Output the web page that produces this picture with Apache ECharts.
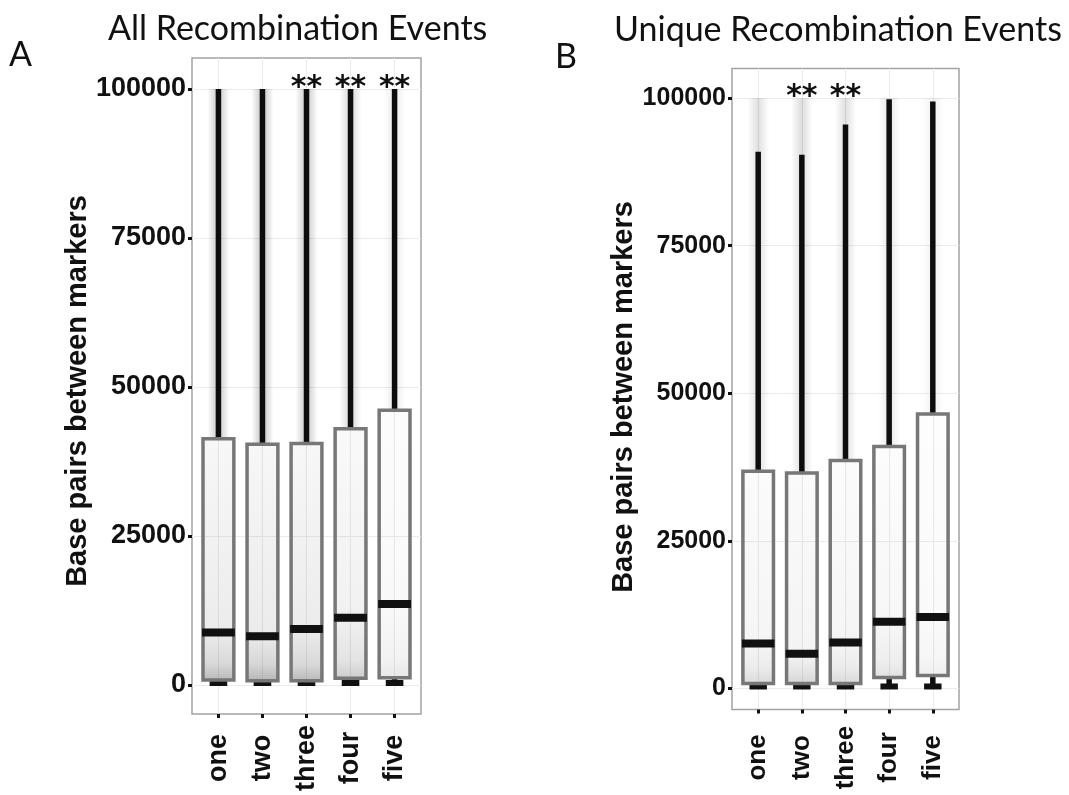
<!DOCTYPE html>
<html>
<head>
<meta charset="utf-8">
<script src="https://cdn.jsdelivr.net/npm/echarts@6/dist/echarts.min.js"></script>
<style>
  html, body { margin: 0; padding: 0; background: #fff; }
  #chart { width: 1069px; height: 795px; }
</style>
</head>
<body>
<div id="chart"></div>
<script>
const categories = ['one', 'two', 'three', 'four', 'five'];
const yTicks = [0, 25000, 50000, 75000, 100000];

// A: all recombination events
const lowA = [0, 0, 0, 0, 0];
const q1A = [850, 700, 700, 1150, 1200];
const medianA = [8800, 8200, 9400, 11300, 13600];
const q3A = [41300, 40400, 40500, 43000, 46100];
const highA = [100000, 100000, 100000, 100000, 100000];
const starsA = ['three', 'four', 'five'];

// B: unique recombination events
const lowB = [0, 0, 0, 0, 0];
const q1B = [850, 850, 850, 1850, 2200];
const medianB = [7600, 5900, 7800, 11300, 12100];
const q3B = [36800, 36500, 38600, 41000, 46500];
const highB = [90900, 90400, 95500, 99800, 99400];
const starsB = ['two', 'three'];

// jittered points run up to this value
const pointMax = 100000;
const starValue = 101500;

// how dark the jittered points make each box look
const shadeA = [0.30, 0.32, 0.30, 0.22, 0.10];
const shadeB = [0.16, 0.18, 0.16, 0.13, 0.07];

const boldFont = 'Liberation Sans';
const titleFont = 'Lato';

function rows(low, q1, med, q3, high) {
    return categories.map((c, i) => [i + 1, low[i], q1[i], med[i], q3[i], high[i]]);
}

function boxRenderer(shade) {
    return function (params, api) {
        const x = api.value(0);
        const pLow = api.coord([x, api.value(1)]);
        const pQ1 = api.coord([x, api.value(2)]);
        const pMed = api.coord([x, api.value(3)]);
        const pQ3 = api.coord([x, api.value(4)]);
        const pHigh = api.coord([x, api.value(5)]);
        const pCap = api.coord([x, pointMax]);
        const unit = api.size([1, 0])[0];
        const cx = pQ1[0];
        const bw = unit * 0.7;
        const s = shade[params.dataIndex];
        const medFrac = Math.min(0.9, Math.max(0.01, (pMed[1] - pQ3[1]) / (pQ1[1] - pQ3[1])));
        const a = v => 'rgba(0,0,0,' + v.toFixed(3) + ')';
        return {
            type: 'group',
            children: [
                // point cloud above the box
                {
                    type: 'rect',
                    shape: { x: cx - unit * 0.25, y: pCap[1], width: unit * 0.5, height: pQ3[1] - pCap[1] },
                    style: {
                        fill: new echarts.graphic.LinearGradient(0, 0, 1, 0, [
                            { offset: 0, color: a(0) },
                            { offset: 0.5, color: a(s * 0.75) },
                            { offset: 1, color: a(0) }
                        ])
                    }
                },
                // point cloud inside the box
                {
                    type: 'rect',
                    shape: { x: cx - bw / 2, y: pQ3[1], width: bw, height: pQ1[1] - pQ3[1] },
                    style: {
                        fill: new echarts.graphic.LinearGradient(0, 0, 0, 1, [
                            { offset: 0, color: a(s * 0.1) },
                            { offset: medFrac, color: a(s * 0.25) },
                            { offset: 0.93, color: a(s * 0.5) },
                            { offset: 1, color: a(s * 0.9) }
                        ])
                    }
                },
                {
                    type: 'line',
                    shape: { x1: cx, y1: pQ3[1], x2: cx, y2: pHigh[1] },
                    style: { stroke: '#0d0d0d', lineWidth: 5.5 }
                },
                {
                    type: 'line',
                    shape: { x1: cx, y1: pLow[1], x2: cx, y2: pQ1[1] },
                    style: { stroke: '#0d0d0d', lineWidth: 5.5 }
                },
                {
                    type: 'rect',
                    shape: { x: cx - unit * 0.2, y: pLow[1] - 5, width: unit * 0.4, height: 6 },
                    style: { fill: '#111' }
                },
                {
                    type: 'rect',
                    shape: { x: cx - bw / 2, y: pQ3[1], width: bw, height: pQ1[1] - pQ3[1] },
                    style: { fill: 'none', stroke: '#777', lineWidth: 3.5 }
                },
                {
                    type: 'rect',
                    shape: { x: cx - bw / 2 - 1, y: pMed[1] - 4, width: bw + 2, height: 8 },
                    style: { fill: '#111' }
                }
            ]
        };
    };
}

function starRenderer(params, api) {
    const p = api.coord([api.value(0), api.value(1)]);
    return {
        type: 'text',
        x: p[0],
        y: p[1] + 8,
        style: {
            text: '**',
            fontFamily: 'DejaVu Sans',
            fontWeight: 'bold',
            fontSize: 30,
            fill: '#111',
            align: 'center',
            verticalAlign: 'middle'
        }
    };
}

function xAxisFor(gridIndex, margin, fontSize) {
    return {
        type: 'value',
        gridIndex: gridIndex,
        min: 0.4,
        max: 5.6,
        axisLine: { show: false, onZero: false },
        axisTick: { show: true, customValues: [1, 2, 3, 4, 5], length: 4, lineStyle: { color: '#111', width: 3 } },
        axisLabel: {
            customValues: [1, 2, 3, 4, 5],
            formatter: v => categories[Math.round(v) - 1],
            rotate: 90,
            align: 'center',
            verticalAlign: 'middle',
            margin: margin,
            fontFamily: boldFont,
            fontWeight: 'bold',
            fontSize: fontSize,
            color: '#111'
        },
        splitLine: { show: true, lineStyle: { color: '#ebebeb', width: 1 } }
    };
}

function yAxisFor(gridIndex, min, max, fontSize, nameGap, namePadding) {
    return {
        type: 'value',
        gridIndex: gridIndex,
        min: min,
        max: max,
        axisLine: { show: false, onZero: false },
        axisTick: { show: true, customValues: yTicks, length: 4, lineStyle: { color: '#111', width: 3 } },
        axisLabel: {
            customValues: yTicks,
            formatter: v => String(v),
            margin: 6,
            fontFamily: boldFont,
            fontWeight: 'bold',
            fontSize: fontSize,
            color: '#111'
        },
        splitLine: { show: true, lineStyle: { color: '#ebebeb', width: 1 } },
        name: 'Base pairs between markers',
        nameLocation: 'middle',
        nameRotate: 90,
        nameGap: nameGap,
        nameTextStyle: { fontFamily: boldFont, fontWeight: 'bold', fontSize: 29, color: '#111', padding: namePadding }
    };
}

const titleStyle = { fontFamily: titleFont, fontWeight: 'normal', fontSize: 34, color: '#111' };

const option = {
    animation: false,
    backgroundColor: '#fff',
    title: [
        { text: 'All Recombination Events', left: 108, top: 12, padding: 0, textStyle: titleStyle },
        { text: 'A', left: 9, top: 38, padding: 0, textStyle: titleStyle },
        { text: 'B', left: 555, top: 40, padding: 0, textStyle: titleStyle },
        { text: 'Unique Recombination Events', left: 614, top: 13, padding: 0, textStyle: titleStyle }
    ],
    grid: [
        { left: 192, top: 58, width: 229, height: 656, show: true, borderColor: '#a3a3a3', borderWidth: 1.5, backgroundColor: '#fff' },
        { left: 732, top: 68.5, width: 227, height: 641, show: true, borderColor: '#a3a3a3', borderWidth: 1.5, backgroundColor: '#fff' }
    ],
    xAxis: [xAxisFor(0, 44, 27), xAxisFor(1, 48, 26)],
    yAxis: [
        yAxisFor(0, -4866, 105200, 27, 97, [0, 10, 0, 0]),
        yAxisFor(1, -3560, 105000, 25, 93, [0, 16, 0, 0])
    ],
    series: [
        {
            type: 'custom',
            xAxisIndex: 0,
            yAxisIndex: 0,
            renderItem: boxRenderer(shadeA),
            encode: { x: 0, y: [1, 2, 3, 4, 5] },
            data: rows(lowA, q1A, medianA, q3A, highA)
        },
        {
            type: 'custom',
            xAxisIndex: 1,
            yAxisIndex: 1,
            renderItem: boxRenderer(shadeB),
            encode: { x: 0, y: [1, 2, 3, 4, 5] },
            data: rows(lowB, q1B, medianB, q3B, highB)
        },
        {
            type: 'custom',
            xAxisIndex: 0,
            yAxisIndex: 0,
            renderItem: starRenderer,
            encode: { x: 0, y: 1 },
            data: starsA.map(c => [categories.indexOf(c) + 1, starValue])
        },
        {
            type: 'custom',
            xAxisIndex: 1,
            yAxisIndex: 1,
            renderItem: starRenderer,
            encode: { x: 0, y: 1 },
            data: starsB.map(c => [categories.indexOf(c) + 1, starValue])
        }
    ]
};

echarts.init(document.getElementById('chart')).setOption(option);
</script>
</body>
</html>
